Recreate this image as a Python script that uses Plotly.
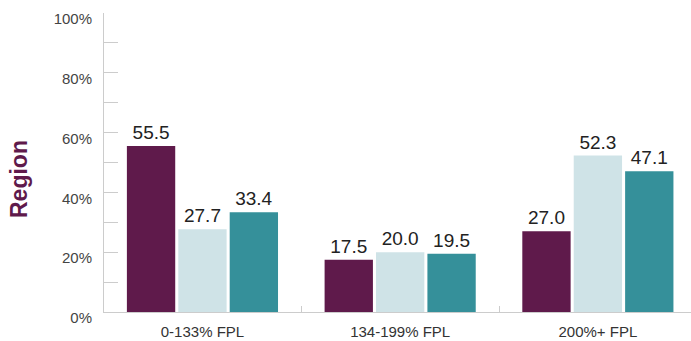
import plotly.graph_objects as go

categories = ["0-133% FPL", "134-199% FPL", "200%+ FPL"]
series_names = ["Series 1", "Series 2", "Series 3"]
series_values = [
    [55.5, 17.5, 27.0],
    [27.7, 20.0, 52.3],
    [33.4, 19.5, 47.1],
]
colors = ["#5F1A4B", "#CFE3E7", "#35909A"]
y_tick_vals = [0, 20, 40, 60, 80, 100]
y_tick_text = ["0%", "20%", "40%", "60%", "80%", "100%"]
y_title = "Region"

W, H = 691, 341
L, R, T, B = 104, 0, 13, 29

fig = go.Figure()
for name, vals, col in zip(series_names, series_values, colors):
    fig.add_trace(go.Bar(
        x=categories, y=vals, name=name, marker_color=col,
        marker_line_width=0,
        text=[f"{v:.1f}" for v in vals], textposition="outside",
        textfont=dict(size=19, color="#222222"), cliponaxis=False,
    ))

fig.update_layout(
    width=W, height=H,
    margin=dict(l=L, r=R, t=T, b=B, autoexpand=False),
    paper_bgcolor="white", plot_bgcolor="white",
    barmode="group", bargap=0.22, bargroupgap=0.06,
    showlegend=False,
    font=dict(family="Liberation Sans, Arial, sans-serif", color="#333333"),
)
fig.add_annotation(
    text=f"<b>{y_title}</b>", textangle=-90,
    xref="paper", yref="paper",
    x=(19 - L) / (W - L - R), y=(H - B - 179) / (H - T - B),
    xanchor="center", yanchor="middle", showarrow=False,
    font=dict(size=23, color="#5F1A4B"),
)
fig.update_xaxes(
    range=[-0.498, 2.471], showgrid=False, showline=True, linecolor="#cccccc",
    linewidth=1, ticks="inside", tickson="boundaries", ticklen=6,
    tickcolor="#cccccc", tickfont=dict(size=15, color="#333333"),
    ticklabelstandoff=6, automargin=False,
)
fig.update_yaxes(
    range=[0, 100], showgrid=False, zeroline=False, showline=True,
    linecolor="#cccccc", linewidth=1,
    tickvals=y_tick_vals, ticktext=y_tick_text,
    ticks="inside", ticklen=14, tickcolor="#cccccc",
    minor=dict(dtick=10, ticks="inside", ticklen=14, tickcolor="#cccccc"),
    tickfont=dict(size=15, color="#444444"),
    ticklabelstandoff=8, ticklabelshift=6, automargin=False,
)

fig.write_html(
    "out.html",
    config={"displayModeBar": False},
    post_script="document.body.style.margin='0';document.body.style.overflow='hidden';",
)
